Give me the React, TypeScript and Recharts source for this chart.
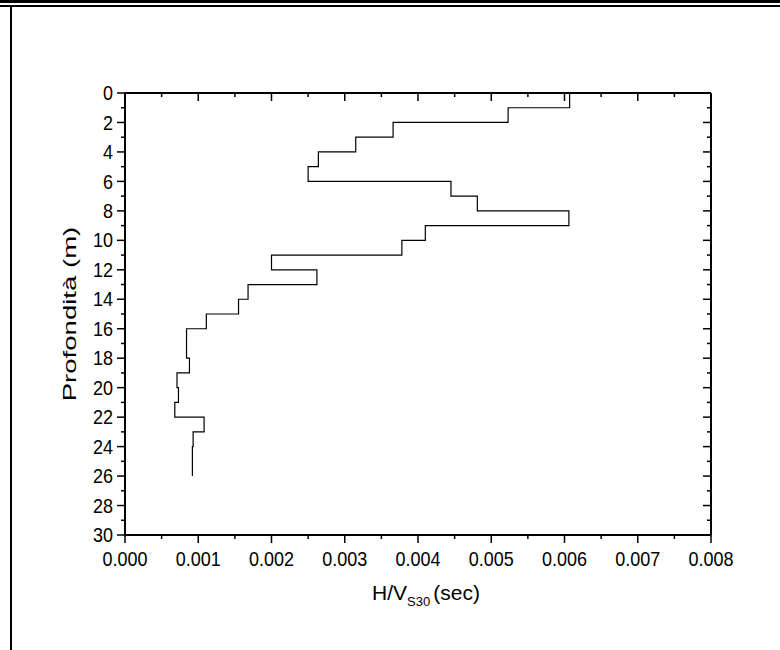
import { LineChart, Line, XAxis, YAxis } from "recharts";

// layer boundaries (m) and H/Vs value of each 1 m layer
const layerTops = [0, 1, 2, 3, 4, 5, 6, 7, 8, 9, 10, 11, 12, 13, 14, 15, 16, 17, 18, 19, 20, 21, 22, 23, 24, 25];
const layerBottoms = [1, 2, 3, 4, 5, 6, 7, 8, 9, 10, 11, 12, 13, 14, 15, 16, 17, 18, 19, 20, 21, 22, 23, 24, 25, 26];
const hvValues = [
  0.00607, 0.00523, 0.00366, 0.00315, 0.00264, 0.0025, 0.00445, 0.00481, 0.00606, 0.0041,
  0.00378, 0.002, 0.00262, 0.00168, 0.00155, 0.00111, 0.00084, 0.00084, 0.00088, 0.00071,
  0.00073, 0.00068, 0.00108, 0.00093, 0.00092, 0.00092,
];

const xMajorTicks = [0, 0.001, 0.002, 0.003, 0.004, 0.005, 0.006, 0.007, 0.008];
const xMinorTicks = [0.0005, 0.0015, 0.0025, 0.0035, 0.0045, 0.0055, 0.0065, 0.0075];
const yMajorTicks = [0, 2, 4, 6, 8, 10, 12, 14, 16, 18, 20, 22, 24, 26, 28, 30];
const yMinorTicks = [1, 3, 5, 7, 9, 11, 13, 15, 17, 19, 21, 23, 25, 27, 29];

const profile = hvValues.flatMap((v, i) => [
  { x: v, y: layerTops[i] },
  { x: v, y: layerBottoms[i] },
]);

const FONT = "'Liberation Sans', Arial, sans-serif";
const MAJOR = 8;
const MINOR = 4;

const isXMajor = (v: number) => xMajorTicks.some((t) => Math.abs(t - v) < 1e-9);
const isYMajor = (v: number) => yMajorTicks.includes(v);

function makeTick(side: "left" | "right" | "top" | "bottom") {
  return (props: any) => {
    const { x, y, payload } = props;
    const v = payload.value;
    const horiz = side === "top" || side === "bottom";
    const len = (horiz ? isXMajor(v) : isYMajor(v)) ? MAJOR : MINOR;
    if (side === "left") {
      return (
        <g>
          <line x1={x - len} x2={x} y1={y} y2={y} stroke="#000" strokeWidth={1.5} />
          {isYMajor(v) && (
            <text
              transform={`translate(${x - 12},${y}) scale(1,1.1)`}
              textAnchor="end"
              dy="0.36em"
              fontSize={18}
              fontFamily={FONT}
              fill="#000"
            >
              {v}
            </text>
          )}
        </g>
      );
    }
    if (side === "bottom") {
      return (
        <g>
          <line x1={x} x2={x} y1={y} y2={y + len} stroke="#000" strokeWidth={1.5} />
          {isXMajor(v) && (
            <text
              transform={`translate(${x},${y + 17}) scale(1,1.1)`}
              textAnchor="middle"
              dy="0.72em"
              fontSize={18}
              fontFamily={FONT}
              fill="#000"
            >
              {v.toFixed(3)}
            </text>
          )}
        </g>
      );
    }
    if (side === "right") {
      return <line x1={x - len} x2={x} y1={y} y2={y} stroke="#000" strokeWidth={1.5} />;
    }
    return <line x1={x} x2={x} y1={y} y2={y + len} stroke="#000" strokeWidth={1.5} />;
  };
}

export default function App() {
  const xTicks = [...xMajorTicks, ...xMinorTicks].sort((a, b) => a - b);
  const yTicks = [...yMajorTicks, ...yMinorTicks].sort((a, b) => a - b);
  return (
    <div style={{ position: "absolute", left: 0, top: 0, width: 780, height: 650, background: "#fff", fontFamily: FONT }}>
      <div style={{ position: "absolute", left: 0, top: 0, width: 780, height: 3, background: "#000" }} />
      <div style={{ position: "absolute", left: 0, top: 5, width: 780, height: 2, background: "#000" }} />
      <div style={{ position: "absolute", left: 10, top: 6, width: 2, height: 644, background: "#000" }} />

      <LineChart width={780} height={650} data={profile} margin={{ top: 92, right: 68, bottom: 85, left: 65 }}>
        <XAxis
          dataKey="x"
          type="number"
          domain={[0, 0.008]}
          ticks={xTicks}
          interval={0}
          tickSize={0}
          tickMargin={0}
          tickLine={false}
          tick={makeTick("bottom")}
          axisLine={{ stroke: "#000", strokeWidth: 2 }}
          height={30}
          allowDataOverflow
        />
        <XAxis
          xAxisId="top"
          orientation="top"
          dataKey="x"
          type="number"
          domain={[0, 0.008]}
          ticks={xTicks}
          interval={0}
          tickSize={0}
          tickMargin={0}
          tickLine={false}
          tick={makeTick("top")}
          axisLine={{ stroke: "#000", strokeWidth: 2 }}
          height={1}
          allowDataOverflow
        />
        <YAxis
          dataKey="y"
          type="number"
          domain={[0, 30]}
          reversed
          ticks={yTicks}
          interval={0}
          tickSize={0}
          tickMargin={0}
          tickLine={false}
          tick={makeTick("left")}
          axisLine={{ stroke: "#000", strokeWidth: 2 }}
          width={60}
          allowDataOverflow
        />
        <YAxis
          yAxisId="right"
          orientation="right"
          dataKey="y"
          type="number"
          domain={[0, 30]}
          reversed
          ticks={yTicks}
          interval={0}
          tickSize={0}
          tickMargin={0}
          tickLine={false}
          tick={makeTick("right")}
          axisLine={{ stroke: "#000", strokeWidth: 2 }}
          width={1}
          allowDataOverflow
        />
        <Line
          dataKey="y"
          type="linear"
          stroke="#000"
          strokeWidth={1.2}
          dot={false}
          activeDot={false}
          isAnimationActive={false}
        />
      </LineChart>

      <div
        style={{
          position: "absolute",
          left: 276,
          top: 583,
          width: 300,
          textAlign: "center",
          fontSize: 21,
          lineHeight: "20px",
          color: "#000",
          whiteSpace: "nowrap",
        }}
      >
        H/V<span style={{ fontSize: 13, verticalAlign: "-6px" }}>S30</span>
        <span style={{ marginLeft: 3 }}>(sec)</span>
      </div>
      <div
        style={{
          position: "absolute",
          left: 70 - 150,
          top: 314 - 12,
          width: 300,
          height: 24,
          lineHeight: "24px",
          textAlign: "center",
          fontSize: 19,
          color: "#000",
          transform: "rotate(-90deg) scaleX(1.45)",
          whiteSpace: "nowrap",
        }}
      >
        Profondità (m)
      </div>
    </div>
  );
}
